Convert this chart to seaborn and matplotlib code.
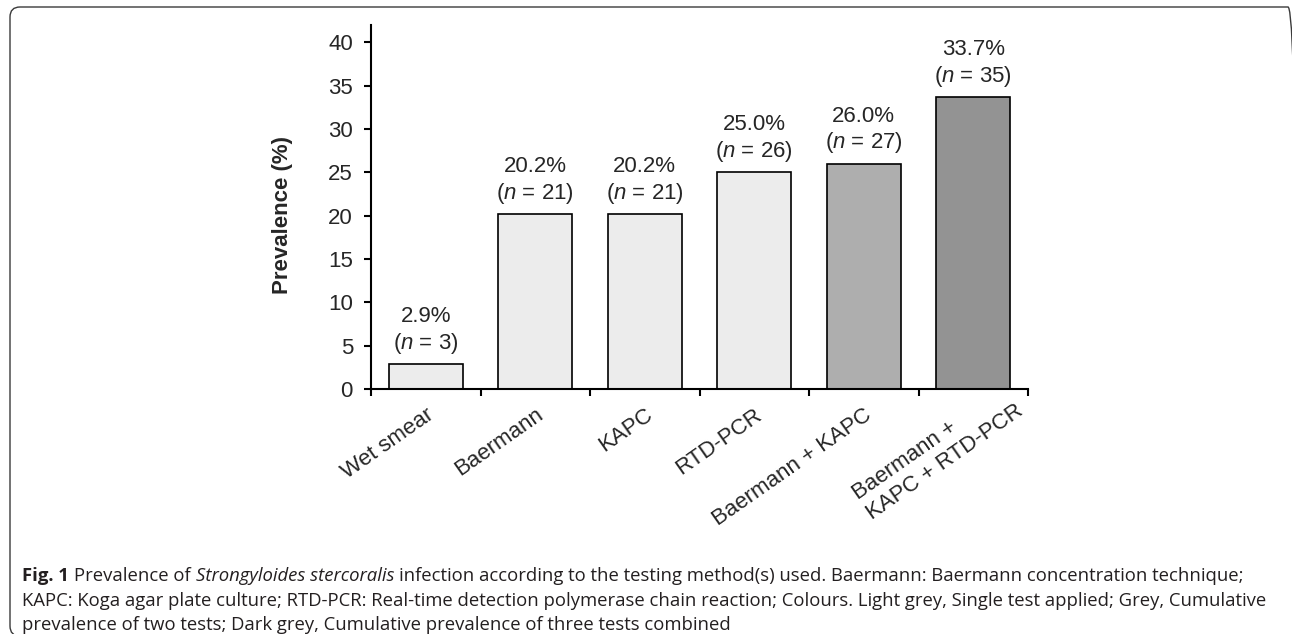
import numpy as np
import matplotlib
matplotlib.use("Agg")
import matplotlib.pyplot as plt
import seaborn as sns
from matplotlib.patches import FancyBboxPatch
from matplotlib.transforms import IdentityTransform, ScaledTranslation

# data
methods = ["Wet smear", "Baermann", "KAPC", "RTD-PCR",
           "Baermann + KAPC", "Baermann +\nKAPC + RTD-PCR"]
prevalence = [2.9, 20.2, 20.2, 25.0, 26.0, 33.7]
n_positive = [3, 21, 21, 26, 27, 35]
groups = ["single", "single", "single", "single", "two", "three"]
group_colors = {"single": "#ececec", "two": "#aeaeae", "three": "#939393"}

caption_runs = [
    ("Fig. 1", dict(fontweight="bold")),
    ("Prevalence of", {}),
    ("Strongyloides stercoralis", dict(style="italic")),
    ("infection according to the testing method(s) used. Baermann: "
     "Baermann concentration technique;", {}),
]
caption_rest = [
    "KAPC: Koga agar plate culture; RTD-PCR: Real-time detection polymerase "
    "chain reaction; Colours. Light grey, Single test applied; Grey, Cumulative",
    "prevalence of two tests; Dark grey, Cumulative prevalence of three tests combined",
]

sns.set_theme(style="ticks")
plt.rcParams["font.family"] = ["Liberation Sans", "DejaVu Sans"]
plt.rcParams["mathtext.fontset"] = "custom"
plt.rcParams["mathtext.rm"] = "Liberation Sans"
plt.rcParams["mathtext.it"] = "Liberation Sans:italic"

W, H = 1292, 634
fig = plt.figure(figsize=(W / 100, H / 100), dpi=100)
ax = fig.add_axes([371 / W, 245 / H, 657 / W, 364 / H])

sns.barplot(x=methods, y=prevalence, hue=groups, palette=group_colors,
            dodge=False, width=0.68, saturation=1, edgecolor="black",
            linewidth=1.2, legend=False, ax=ax)

ax.set_xlim(-0.5, len(methods) - 0.5)
ax.set_ylim(0, 42)
ax.set_yticks(np.arange(0, 41, 5))
ax.tick_params(axis="y", labelsize=16, length=5, width=1.5, pad=8, color="black")

# category labels centred, tick marks between categories
ax.set_xticks(range(len(methods)))
ax.set_xticklabels(methods, rotation=35, ha="right", va="top",
                   rotation_mode="anchor", fontsize=16, multialignment="left")
ax.tick_params(axis="x", which="major", length=0, pad=11)
ax.set_xticks(np.arange(-0.5, len(methods), 1.0), minor=True)
ax.tick_params(axis="x", which="minor", length=5, width=1.5, color="black")
last = ax.get_xticklabels()[-1]
last.set_transform(last.get_transform()
                   + ScaledTranslation(0.28, 0.24, fig.dpi_scale_trans))

for side in ["top", "right"]:
    ax.spines[side].set_visible(False)
for side in ["left", "bottom"]:
    ax.spines[side].set_linewidth(1.5)
    ax.spines[side].set_color("black")

ax.set_xlabel("")
ax.set_ylabel("Prevalence (%)", fontsize=16, fontweight="bold")
ax.yaxis.set_label_coords(-0.119, 0.478)

for i, (p, n) in enumerate(zip(prevalence, n_positive)):
    ax.annotate(f"{p:.1f}%\n($\\it{{n}}$ = {n})", xy=(i, p),
                xytext=(0, 6), textcoords="offset points",
                ha="center", va="bottom", fontsize=16, linespacing=1.2)

# caption under the chart
cap = dict(fontsize=13.3, family=["Open Sans", "DejaVu Sans"], color="#231f20")
renderer = fig.canvas.get_renderer()
x = 22
y_lines = [H - 581, H - 606, H - 630]
for s, kw in caption_runs:
    t = fig.text(x, y_lines[0], s, transform=IdentityTransform(),
                 va="baseline", ha="left", **cap, **kw)
    x = t.get_window_extent(renderer).x1 + 5
for yy, s in zip(y_lines[1:], caption_rest):
    fig.text(22, yy, s, transform=IdentityTransform(), va="baseline",
             ha="left", **cap)

# rounded frame around the figure panel (right and bottom edges fall just outside)
frame = FancyBboxPatch((10, -2), W - 7 + 3, H - 5,
                       boxstyle="round,pad=0,rounding_size=10",
                       transform=IdentityTransform(), fill=False,
                       edgecolor="#3a3a3a", linewidth=1.0)
fig.add_artist(frame)

fig.savefig("out.png", dpi=100)
